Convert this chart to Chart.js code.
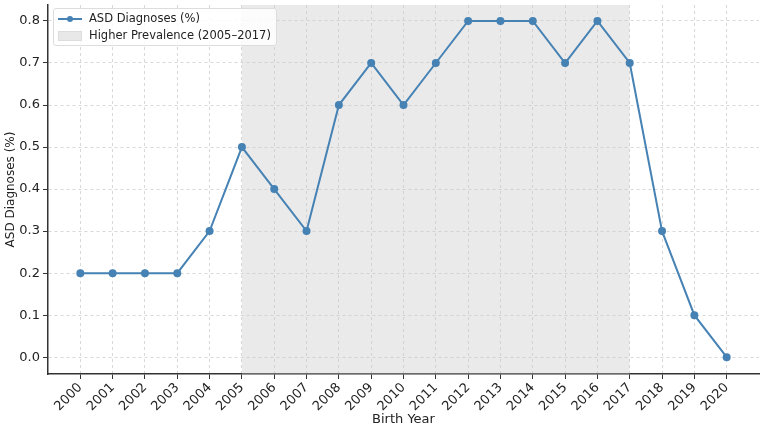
<!DOCTYPE html>
<html lang="en">
<head>
  <meta charset="UTF-8">
  <title>ASD Diagnoses by Birth Year</title>
  <script src="https://cdn.jsdelivr.net/npm/chart.js"></script>
  <style>
    body { margin: 0; background: #fff; font-family: 'DejaVu Sans', sans-serif; }
    .wrap { position: relative; width: 767px; height: 427px; }
    .legend {
      position: absolute; left: 53px; top: 8px;
      background: rgba(255,255,255,0.85); border: 1px solid #ddd; border-radius: 3px;
      padding: 1px 5px 1px 4px; font-size: 11.5px; color: #222; line-height: 17px;
    }
    .legend .row { display: flex; align-items: center; }
    .legend .sw { width: 24px; height: 10px; margin-right: 7px; position: relative; }
    .legend .line::before { content: ''; position: absolute; left: 0; right: 0; top: 4px; height: 2px; background: #4682b4; }
    .legend .line::after { content: ''; position: absolute; left: 9px; top: 2px; width: 6px; height: 6px; border-radius: 50%; background: #4682b4; }
    .legend .box { background: #e8e8e8; border: 1px solid #ddd; height: 8px; width: 22px; }
  </style>
</head>
<body>
  <div class="wrap">
    <canvas id="asdChart" width="767" height="427"></canvas>
    <div class="legend">
      <div class="row"><span class="sw line"></span>ASD Diagnoses (%)</div>
      <div class="row"><span class="sw box"></span>Higher Prevalence (2005–2017)</div>
    </div>
  </div>

  <script>
    const years = [2000, 2001, 2002, 2003, 2004, 2005, 2006, 2007, 2008, 2009, 2010,
                   2011, 2012, 2013, 2014, 2015, 2016, 2017, 2018, 2019, 2020];
    const asdRates = [0.2, 0.2, 0.2, 0.2, 0.3, 0.5, 0.4, 0.3, 0.6, 0.7, 0.6,
                      0.7, 0.8, 0.8, 0.8, 0.7, 0.8, 0.7, 0.3, 0.1, 0.0];
    const highStart = 2005;
    const highEnd = 2017;
    const yTicks = [0.0, 0.1, 0.2, 0.3, 0.4, 0.5, 0.6, 0.7, 0.8];

    const yMin = -0.04, yMax = 0.838;

    new Chart(document.getElementById('asdChart'), {
      type: 'line',
      data: {
        datasets: [{
          label: 'ASD Diagnoses (%)',
          data: years.map((y, i) => ({ x: y, y: asdRates[i] })),
          borderColor: '#4682b4',
          backgroundColor: '#4682b4',
          borderWidth: 2,
          pointRadius: 3,
          pointHoverRadius: 3,
          tension: 0,
          order: 1
        }, {
          label: 'Higher Prevalence (2005–2017)',
          data: [{ x: highStart, y: yMax }, { x: highEnd, y: yMax }],
          borderWidth: 0,
          pointRadius: 0,
          backgroundColor: 'rgba(200,200,200,0.38)',
          fill: 'start',
          order: 2
        }]
      },
      options: {
        responsive: false,
        animation: false,
        layout: { padding: { left: 0, right: 8, top: 4, bottom: 0 } },
        plugins: { legend: { display: false }, tooltip: { enabled: false } },
        scales: {
          x: {
            type: 'linear',
            min: 1999, max: 2021,
            afterBuildTicks: axis => { axis.ticks = years.map(v => ({ value: v })); },
            afterFit: s => { s.height = 53; s.paddingRight = 0; s.paddingLeft = 0; },
            ticks: {
              color: '#222', font: { family: 'DejaVu Sans', size: 13 },
              maxRotation: 45, minRotation: 45, autoSkip: false, padding: 1,
              callback: v => String(v)
            },
            grid: { color: '#d8d8d8', tickColor: '#333', tickLength: 5, tickBorderDash: [] },
            border: { color: '#333', width: 1.5, dash: [3, 3] },
            title: { display: true, text: 'Birth Year', color: '#222', font: { family: 'DejaVu Sans', size: 13 }, padding: { top: 0, bottom: 0 } }
          },
          y: {
            min: yMin, max: yMax,
            afterBuildTicks: axis => { axis.ticks = yTicks.map(v => ({ value: v })); },
            afterFit: s => { s.width = 48; s.paddingTop = 0; s.paddingBottom = 0; },
            ticks: {
              color: '#222', font: { family: 'DejaVu Sans', size: 13 },
              callback: v => v.toFixed(1), padding: 3
            },
            grid: { color: '#d8d8d8', tickColor: '#333', tickLength: 5, tickBorderDash: [] },
            border: { color: '#333', width: 1.5, dash: [3, 3] },
            title: { display: true, text: 'ASD Diagnoses (%)', color: '#222', font: { family: 'DejaVu Sans', size: 12 }, padding: { top: 4, bottom: 0 } }
          }
        }
      }
    });
  </script>
</body>
</html>
